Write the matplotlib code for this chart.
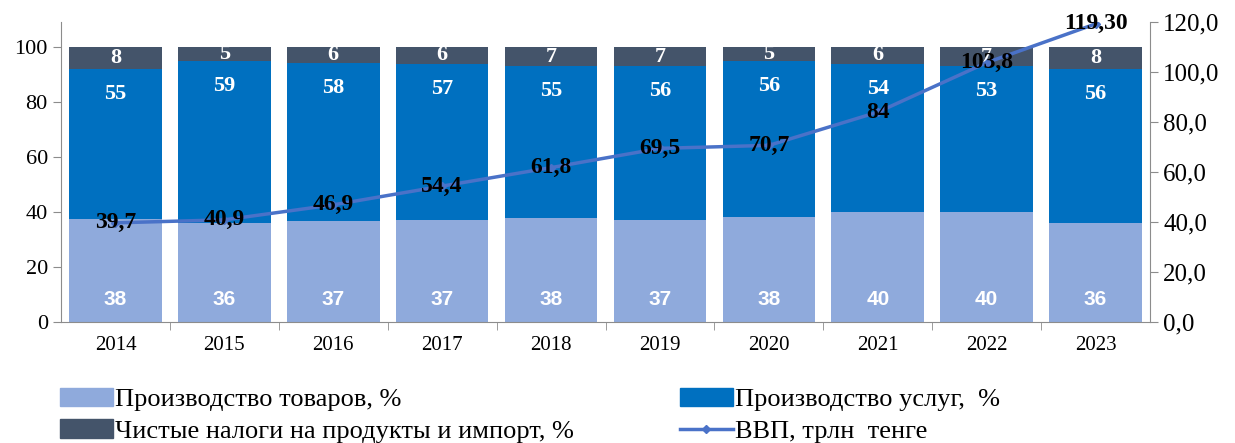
import numpy as np
import matplotlib.pyplot as plt
from matplotlib.patches import Patch
from matplotlib.lines import Line2D

years = ['2014', '2015', '2016', '2017', '2018', '2019', '2020', '2021', '2022', '2023']
goods = [38, 36, 37, 37, 38, 37, 38, 40, 40, 36]
services = [55, 59, 58, 57, 55, 56, 56, 54, 53, 56]
taxes = [8, 5, 6, 6, 7, 7, 5, 6, 7, 8]
gdp = [39.7, 40.9, 46.9, 54.4, 61.8, 69.5, 70.7, 84, 103.8, 119.30]
gdp_labels = ['39,7', '40,9', '46,9', '54,4', '61,8', '69,5', '70,7', '84', '103,8', '119,30']

c_goods = '#8faadc'
c_serv = '#0070c0'
c_tax = '#44546a'
c_line = '#4a72c8'
grey = '#8c8c8c'
serif = 'Liberation Serif'

# 100% stacked
tot = np.array(goods) + np.array(services) + np.array(taxes)
g = np.array(goods) / tot * 100
s = np.array(services) / tot * 100
t = np.array(taxes) / tot * 100
x = np.arange(len(years))

fig = plt.figure(figsize=(12.35, 4.43), dpi=100)
ax = fig.add_axes([0.0494, 0.273, 0.8818, 0.677])
w = 0.85
ax.bar(x, g, w, color=c_goods, zorder=2)
ax.bar(x, s, w, bottom=g, color=c_serv, zorder=2)
ax.bar(x, t, w, bottom=g + s, color=c_tax, zorder=2)

for i in range(len(x)):
    ax.annotate(str(goods[i]), (x[i], 0), xytext=(0, 16), textcoords='offset points',
                ha='center', va='center', color='white', fontsize=15,
                fontweight='bold', family='Liberation Sans', zorder=3)
    ax.annotate(str(services[i]), (x[i], g[i] + s[i]), xytext=(0, -18), textcoords='offset points',
                ha='center', va='center', color='white', fontsize=16,
                fontweight='bold', family=serif, zorder=3)
    ax.text(x[i], g[i] + s[i] + t[i] / 2, str(taxes[i]), ha='center', va='center',
            color='white', fontsize=16, fontweight='bold', family=serif, zorder=3)

ax.set_xlim(-0.5, len(x) - 0.5)
ax.set_ylim(0, 109.1)
ax.set_yticks(range(0, 101, 20))
ax.set_xticks(x)
ax.set_xticklabels(years, family=serif, fontsize=15)
ax.set_xticks(np.arange(0.5, len(x) - 1, 1), minor=True)
ax.tick_params(axis='x', which='major', length=0, pad=10)
ax.tick_params(axis='x', which='minor', length=6, color=grey)
ax.tick_params(axis='y', length=6, color=grey, labelsize=16)
for lb in ax.get_yticklabels():
    lb.set_family(serif)
ax.spines['top'].set_visible(False)
ax.spines['right'].set_visible(False)
for sp in ['left', 'bottom']:
    ax.spines[sp].set_color(grey)

ax2 = ax.twinx()
ax2.plot(x, gdp, color=c_line, lw=2.5, marker='D', ms=4, zorder=4)
for i in range(len(x)):
    ax2.text(x[i], gdp[i], gdp_labels[i], ha='center', va='center', fontsize=17,
             fontweight='bold', family=serif, color='black', zorder=5)
ax2.set_ylim(0, 120)
ax2.set_yticks(range(0, 121, 20))
ax2.set_yticklabels([f'{v},0' for v in range(0, 121, 20)], family=serif, fontsize=18)
ax2.tick_params(axis='y', length=6, color=grey)
ax2.spines['top'].set_visible(False)
ax2.spines['left'].set_visible(False)
ax2.spines['bottom'].set_visible(False)
ax2.spines['right'].set_color(grey)

handles = [Patch(color=c_goods, label='Производство товаров, %'),
           Patch(color=c_tax, label='Чистые налоги на продукты и импорт, %'),
           Patch(color=c_serv, label='Производство услуг,  %'),
           Line2D([0], [0], color=c_line, lw=2.5, marker='D', ms=4, label='ВВП, трлн  тенге')]
fig.legend(handles=handles, ncol=2, loc='upper left', bbox_to_anchor=(0.04, 0.148),
           frameon=False, prop={'family': serif, 'size': 19}, handlelength=2.0,
           handletextpad=0.1, columnspacing=4.0, labelspacing=0.3, borderaxespad=0)

fig.savefig('out.png', dpi=100)
